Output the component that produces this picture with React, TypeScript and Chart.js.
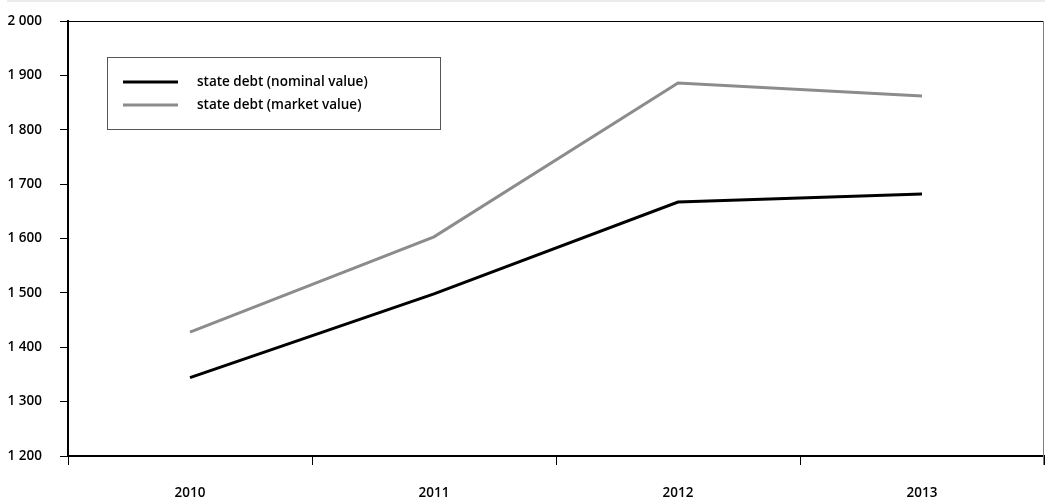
import React, { useEffect, useRef } from "react";
import { Chart, registerables } from "chart.js";

Chart.register(...registerables);

const years = ["2010", "2011", "2012", "2013"];
const nominalDebt = [1344, 1498, 1667, 1682];
const marketDebt = [1428, 1603, 1886, 1862];
const seriesLabels = ["state debt (nominal value)", "state debt (market value)"];
const seriesColors = ["#000000", "#8c8c8c"];

const FONT = "'Open Sans', sans-serif";
const FSIZE = 13.5;

const framePlugin = {
  id: "frame",
  beforeDraw(chart: any) {
    const ctx = chart.ctx;
    ctx.save();
    ctx.fillStyle = "#ebebeb";
    ctx.fillRect(7, 0, chart.width - 7, 2);
    ctx.restore();
  },
  afterDraw(chart: any) {
    const { ctx, chartArea } = chart;
    const { left, right, top, bottom } = chartArea;
    ctx.save();
    ctx.strokeStyle = "#000";
    ctx.lineWidth = 1;
    ctx.beginPath();
    ctx.moveTo(left, top + 0.5);
    ctx.lineTo(right, top + 0.5);
    ctx.stroke();
    ctx.strokeStyle = "#808080";
    ctx.beginPath();
    ctx.moveTo(right - 0.5, top);
    ctx.lineTo(right - 0.5, bottom + 9);
    ctx.stroke();

    const bx = left + 39;
    const by = top + 36;
    const bw = 333;
    const bh = 72;
    ctx.strokeStyle = "#555";
    ctx.lineWidth = 1;
    ctx.strokeRect(bx + 0.5, by + 0.5, bw, bh);
    ctx.font = `600 ${FSIZE}px ${FONT}`;
    ctx.textBaseline = "middle";
    ctx.textAlign = "left";
    chart.data.datasets.forEach((ds: any, i: number) => {
      const y = by + 25 + i * 23;
      ctx.strokeStyle = ds.borderColor;
      ctx.lineWidth = 3;
      ctx.beginPath();
      ctx.moveTo(bx + 16, y);
      ctx.lineTo(bx + 71, y);
      ctx.stroke();
      ctx.fillStyle = "#000";
      ctx.fillText(ds.label, bx + 90, y);
    });
    ctx.restore();
  },
};

export default function App() {
  const canvasRef = useRef<HTMLCanvasElement>(null);

  useEffect(() => {
    document.body.style.margin = "0";
    const chart = new Chart(canvasRef.current!, {
      type: "line",
      data: {
        labels: years,
        datasets: [
          {
            label: seriesLabels[0],
            data: nominalDebt,
            borderColor: seriesColors[0],
            backgroundColor: seriesColors[0],
            borderWidth: 3,
            pointRadius: 0,
            tension: 0,
          },
          {
            label: seriesLabels[1],
            data: marketDebt,
            borderColor: seriesColors[1],
            backgroundColor: seriesColors[1],
            borderWidth: 3,
            pointRadius: 0,
            tension: 0,
          },
        ],
      },
      options: {
        animation: false,
        responsive: true,
        maintainAspectRatio: false,
        layout: { padding: { top: 21, right: 1, left: 0, bottom: 0 } },
        plugins: {
          legend: { display: false },
          tooltip: { enabled: false },
        },
        scales: {
          x: {
            offset: true,
            grid: {
              offset: true,
              drawOnChartArea: false,
              drawTicks: true,
              tickLength: 9,
              color: "#000",
              lineWidth: 1,
            },
            border: { color: "#000", width: 2 },
            ticks: {
              color: "#000",
              padding: 20,
              font: { family: FONT, size: FSIZE, weight: "600" },
              maxRotation: 0,
            },
            afterFit(scale: any) {
              scale.height = 48;
              scale.paddingLeft = 0;
              scale.paddingRight = 0;
            },
          },
          y: {
            min: 1200,
            max: 2000,
            grid: {
              drawOnChartArea: false,
              drawTicks: true,
              tickLength: 8,
              color: "#000",
              lineWidth: 1,
            },
            border: { color: "#000", width: 2 },
            ticks: {
              stepSize: 100,
              color: "#000",
              padding: 18,
              font: { family: FONT, size: FSIZE, weight: "600" },
              callback: (v: any) => {
                const n = Number(v);
                const s = String(n);
                return n >= 1000 ? s.slice(0, s.length - 3) + " " + s.slice(-3) : s;
              },
            },
            afterFit(scale: any) {
              scale.width = 68;
              scale.paddingTop = 0;
              scale.paddingBottom = 0;
            },
          },
        },
      },
      plugins: [framePlugin],
    });
    return () => chart.destroy();
  }, []);

  return (
    <div style={{ position: "fixed", left: 0, top: 0, width: 1045, height: 504 }}>
      <canvas ref={canvasRef} />
    </div>
  );
}
